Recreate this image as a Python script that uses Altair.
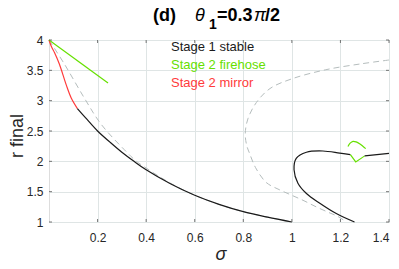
import altair as alt
import pandas as pd

W, H = 340, 182

# ---- data ----
mirror_s = [0.0, 0.009, 0.023, 0.043, 0.071, 0.092, 0.117]
mirror_r = [4.0, 3.90, 3.79, 3.60, 3.26, 3.04, 2.87]

fire1_s = [0.0, 0.243]
fire1_r = [4.0, 3.29]

stable1_s = [0.117, 0.15, 0.2, 0.25, 0.3, 0.35, 0.4, 0.5, 0.6, 0.7, 0.8, 0.9, 1.0]
stable1_r = [2.87, 2.72, 2.50, 2.32, 2.15, 2.0, 1.86, 1.63, 1.44, 1.29, 1.17, 1.08, 1.0]

stable2_s = [1.258, 1.183, 1.115, 1.06, 1.025, 1.009, 1.018, 1.06, 1.128, 1.197, 1.241]
stable2_r = [1.0, 1.14, 1.31, 1.47, 1.64, 1.86, 2.05, 2.15, 2.17, 2.135, 2.11]

fireV_s = [1.241, 1.263, 1.30]
fireV_r = [2.11, 1.99, 2.09]

stable3_s = [1.30, 1.4]
stable3_r = [2.09, 2.13]

fireArc_s = [1.231, 1.24, 1.252, 1.265, 1.279, 1.304]
fireArc_r = [2.245, 2.30, 2.33, 2.32, 2.29, 2.21]

dash1_s = [0.0, 0.064, 0.146, 0.215, 0.318, 0.36, 0.4, 0.45, 0.5, 0.6, 0.7, 0.8, 0.9, 1.0]
dash1_r = [4.0, 3.60, 3.04, 2.61, 2.16, 2.0, 1.89, 1.76, 1.64, 1.44, 1.29, 1.17, 1.08, 1.0]

dash2_s = [1.4, 1.29, 1.14, 1.0, 0.91, 0.854, 0.819, 0.808, 0.815, 0.826, 0.85, 0.895,
           0.95, 1.0, 1.05, 1.10, 1.15, 1.19, 1.225]
dash2_r = [3.67, 3.61, 3.51, 3.36, 3.20, 2.97, 2.70, 2.45, 2.25, 2.13, 1.90, 1.65,
           1.53, 1.44, 1.35, 1.25, 1.16, 1.09, 1.0]

x_ticks = [0.2, 0.4, 0.6, 0.8, 1.0, 1.2, 1.4]
y_ticks = [1.0, 1.5, 2.0, 2.5, 3.0, 3.5, 4.0]

legend_labels = ["Stage 1 stable", "Stage 2 firehose", "Stage 2 mirror"]
BLACK, GREEN, RED = "#1a1a1a", "#66e000", "#ff3b3b"
legend_colors = [BLACK, GREEN, RED]
DASH = "#b5bdbd"


def frame(name, s, r, color):
    return pd.DataFrame({"curve": name, "sigma": s, "r": r,
                         "i": list(range(len(s))), "color": color})


smooth = pd.concat([
    frame("mirror", mirror_s, mirror_r, RED),
    frame("stable1", stable1_s, stable1_r, BLACK),
    frame("stable2", stable2_s, stable2_r, BLACK),
    frame("fireArc", fireArc_s, fireArc_r, GREEN),
], ignore_index=True)

straight = pd.concat([
    frame("fire1", fire1_s, fire1_r, GREEN),
    frame("fireV", fireV_s, fireV_r, GREEN),
    frame("stable3", stable3_s, stable3_r, BLACK),
], ignore_index=True)

dashed = pd.concat([
    frame("d1", dash1_s, dash1_r, DASH),
    frame("d2", dash2_s, dash2_r, DASH),
], ignore_index=True)

FONT = "Liberation Sans"
xs = alt.Scale(domain=[0, 1.4], nice=False, zero=False)
ys = alt.Scale(domain=[1, 4], nice=False, zero=False)

xaxis = alt.Axis(values=x_ticks, format="~g", title=None, domain=False, ticks=False,
                 grid=True, gridColor="#dfe5e5", labelFont=FONT, labelFontSize=12,
                 labelColor="#262626", labelPadding=10, labelFlush=True,
                 labelOverlap=False)
yaxis = alt.Axis(values=y_ticks, format="~g", title=None, domain=False, ticks=False,
                 grid=True, gridColor="#dfe5e5", labelFont=FONT, labelFontSize=12,
                 labelColor="#262626", labelPadding=6, labelFlush=False,
                 labelOverlap=False)

X = lambda f: alt.X(f, scale=xs, axis=xaxis)
Y = lambda f: alt.Y(f, scale=ys, axis=yaxis)

dash_layer = alt.Chart(dashed).mark_line(
    strokeDash=[6, 4], strokeWidth=1, color=DASH, interpolate="catmull-rom").encode(
    x=X("sigma:Q"), y=Y("r:Q"), detail="curve:N", order="i:Q",
)

smooth_layer = alt.Chart(smooth).mark_line(strokeWidth=1.2, interpolate="catmull-rom").encode(
    x=X("sigma:Q"), y=Y("r:Q"),
    color=alt.Color("color:N", scale=None),
    detail="curve:N", order="i:Q",
)

straight_layer = alt.Chart(straight).mark_line(strokeWidth=1.2).encode(
    x=X("sigma:Q"), y=Y("r:Q"),
    color=alt.Color("color:N", scale=None),
    detail="curve:N", order="i:Q",
)

xt = pd.DataFrame({"t": x_ticks})
yt = pd.DataFrame({"t": y_ticks})
TK = "#555555"
ticks = [
    alt.Chart(xt).mark_rule(color=TK, strokeWidth=0.8).encode(
        x=X("t:Q"), y=alt.value(0), y2=alt.value(3)),
    alt.Chart(xt).mark_rule(color=TK, strokeWidth=0.8).encode(
        x=X("t:Q"), y=alt.value(H - 3), y2=alt.value(H)),
    alt.Chart(yt).mark_rule(color=TK, strokeWidth=0.8).encode(
        y=Y("t:Q"), x=alt.value(0), x2=alt.value(3)),
    alt.Chart(yt).mark_rule(color=TK, strokeWidth=0.8).encode(
        y=Y("t:Q"), x=alt.value(W - 3), x2=alt.value(W)),
]

one = pd.DataFrame({"a": [0]})


def label(text, x, y, size, color="#000000", weight="normal", style="normal",
          align="left", angle=0):
    kw = dict(text=text, font=FONT, fontSize=size, color=color, fontWeight=weight,
              fontStyle=style, align=align, baseline="alphabetic")
    if angle:
        kw["angle"] = angle
    return alt.Chart(one).mark_text(**kw).encode(x=alt.value(x), y=alt.value(y))


texts = []
for k, (lab, col) in enumerate(zip(legend_labels, legend_colors)):
    texts.append(label(lab, 122, 11 + 18 * k, 13, color=col))

# title pieces
texts += [
    label("(d)", 104, -19, 18, weight="bold"),
    label("θ", 146, -19, 18, style="italic"),
    label("1", 160, -11, 14, weight="bold"),
    label("=0.3", 168, -19, 18, weight="bold"),
    label("π", 205, -19, 18, style="italic"),
    label("/2", 216, -19, 18, weight="bold"),
]

# axis titles
texts += [
    label("σ", 172, H + 38, 18, color="#262626", style="italic", align="center"),
    label("r final", -26, 96, 18, color="#262626", align="center", angle=270),
]

chart = alt.layer(dash_layer, smooth_layer, straight_layer, *ticks, *texts).properties(
    width=W, height=H,
    padding={"left": 41, "top": 32, "right": 2, "bottom": 39},
    autosize=alt.AutoSizeParams(type="none"),
).configure_view(stroke="#8c8c8c", strokeWidth=1).configure(background="white")

chart.save("out.html", embed_options={"renderer": "svg", "actions": False})
